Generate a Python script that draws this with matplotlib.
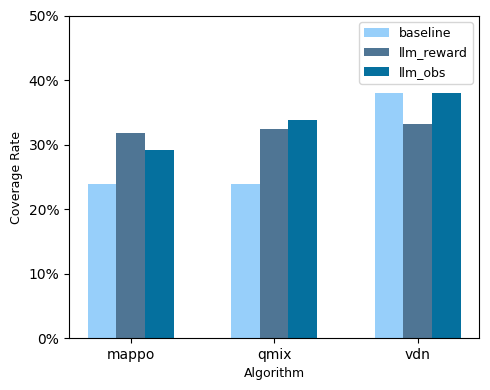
import matplotlib
matplotlib.use("Agg")
import matplotlib.pyplot as plt
import numpy as np
from matplotlib.ticker import PercentFormatter

# Coverage rate per algorithm (percent)
algorithms = ["mappo", "qmix", "vdn"]
baseline = [24.0, 24.0, 38.0]
llm_reward = [31.9, 32.5, 33.3]
llm_obs = [29.2, 33.9, 38.0]

series = [("baseline", baseline, "#97cffa"),
          ("llm_reward", llm_reward, "#4f7594"),
          ("llm_obs", llm_obs, "#05709e")]

X_axis = np.arange(len(algorithms))
bar_width = 0.2

fig, ax = plt.subplots(figsize=(4.9, 3.9), dpi=100)
fig.subplots_adjust(left=0.141, right=0.978, top=0.959, bottom=0.133)

for i, (name, vals, color) in enumerate(series):
    ax.bar(X_axis + (i - 1) * bar_width, vals, width=bar_width, color=color, label=name)

ax.set_xticks(X_axis)
ax.set_xticklabels(algorithms)
ax.set_ylim(0, 50)
ax.set_yticks(range(0, 51, 10))
ax.yaxis.set_major_formatter(PercentFormatter(decimals=0))
ax.set_xlabel("Algorithm", fontsize=9)
ax.set_ylabel("Coverage Rate", fontsize=9)
ax.legend(fontsize=9)

plt.savefig("out.png", dpi=100)
